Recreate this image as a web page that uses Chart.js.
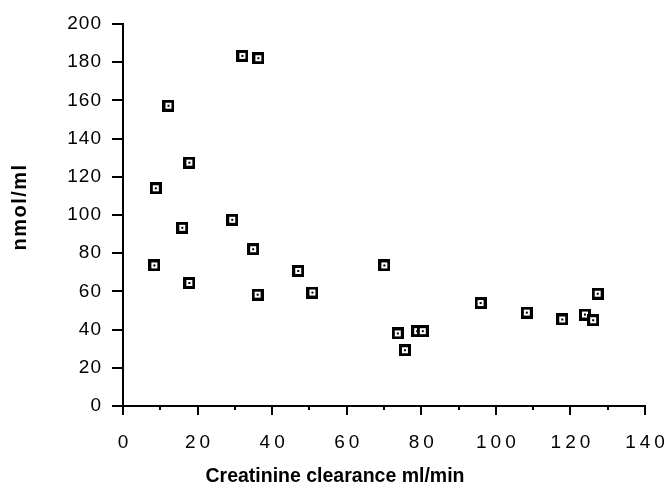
<!DOCTYPE html>
<html><head><meta charset="utf-8">
<script src="https://cdn.jsdelivr.net/npm/chart.js@4/dist/chart.umd.min.js"></script>
<style>html,body{margin:0;padding:0;background:#fff}canvas{display:block}</style>
</head><body>
<canvas id="c" width="667" height="488"></canvas>
<script>
// ---- data ----
const clearance = [8.4, 8.8, 12.2, 15.9, 17.8, 17.8, 29.3, 32.0, 34.9, 36.1, 36.3, 47.0, 50.8, 70.1, 73.7, 75.6, 78.9, 80.4, 95.9, 108.3, 117.8, 123.9, 126.1, 127.3];
const concentration = [73.6, 114.0, 157.2, 93.3, 127.4, 64.4, 97.5, 183.3, 82.1, 58.3, 182.1, 70.7, 59.4, 73.6, 38.0, 29.2, 39.2, 39.2, 53.9, 48.9, 45.3, 47.9, 44.9, 58.8];
const xTickValues = [0, 20, 40, 60, 80, 100, 120, 140];
const xMinorTickValues = [0, 10, 20, 30, 40, 50, 60, 70, 80, 90, 100, 110, 120, 130, 140];
const yTickValues = [0, 20, 40, 60, 80, 100, 120, 140, 160, 180, 200];
const xTitle = 'Creatinine clearance ml/min';
const yTitle = 'nmol/ml';

const FONT = '"Liberation Sans", Arial, Helvetica, sans-serif';

function markerCanvas() {
  const c = document.createElement('canvas');
  c.width = 12; c.height = 12;
  const g = c.getContext('2d');
  g.fillStyle = '#000'; g.fillRect(0, 0, 12, 12);
  g.fillStyle = '#fff'; g.fillRect(3, 3, 6, 6);
  g.fillStyle = '#000'; g.fillRect(5, 5, 2, 2);
  return c;
}

function wrap(scale, method, spacing, dx, dy) {
  const key = '_orig_' + method;
  if (scale[key]) return;
  const orig = scale[method];
  scale[key] = orig;
  scale[method] = function (...a) {
    const c = this.ctx;
    c.save();
    c.letterSpacing = spacing;
    c.translate(dx, dy);
    orig.apply(this, a);
    c.restore();
  };
}
const textSpacing = {
  id: 'textSpacing',
  beforeDraw(chart) {
    wrap(chart.scales.x, 'drawLabels', '4px', 2, 12);
    wrap(chart.scales.y, 'drawLabels', '1px', 0, 0);
    wrap(chart.scales.y, 'drawTitle', '1.5px', 0, -8);
  }
};

const points = clearance.map((x, i) => ({ x: x, y: concentration[i] }));

new Chart(document.getElementById('c'), {
  type: 'scatter',
  data: {
    datasets: [{
      data: points,
      xAxisID: 'x',
      yAxisID: 'y',
      pointStyle: markerCanvas(),
      pointRadius: 6,
      pointHoverRadius: 6,
      showLine: false
    }]
  },
  options: {
    responsive: false,
    animation: false,
    devicePixelRatio: 1,
    layout: { padding: { left: 25, right: 22, top: 24, bottom: 0 } },
    plugins: {
      legend: { display: false },
      tooltip: { enabled: false },
      title: {
        display: true, position: 'bottom', text: xTitle, color: '#000',
        font: { family: FONT, size: 19.5, weight: 'bold' },
        padding: { top: 0, bottom: 0 }
      }
    },
    scales: {
      xMinor: {
        type: 'linear', axis: 'x', position: 'bottom', weight: 0,
        min: 0, max: 140,
        afterBuildTicks(s) { s.ticks = xMinorTickValues.map(v => ({ value: v })); },
        ticks: { display: false },
        grid: { drawOnChartArea: false, color: '#000', lineWidth: 2, tickLength: 4 },
        border: { display: false },
        afterFit(s) { s.height = 0; }
      },
      x: {
        type: 'linear', axis: 'x', position: 'bottom', weight: 1,
        min: 0, max: 140,
        afterBuildTicks(s) { s.ticks = xTickValues.map(v => ({ value: v })); },
        ticks: { color: '#000', font: { family: FONT, size: 19 }, padding: 4, maxRotation: 0, autoSkip: false },
        grid: { drawOnChartArea: false, color: '#000', lineWidth: 2, tickLength: 9 },
        border: { display: true, color: '#000', width: 2 },
        afterFit(s) { s.height = 58.6; }
      },
      y: {
        type: 'linear', position: 'left',
        min: 0, max: 200,
        afterBuildTicks(s) { s.ticks = yTickValues.map(v => ({ value: v })); },
        ticks: { color: '#000', font: { family: FONT, size: 19 }, padding: 10, autoSkip: false },
        grid: { drawOnChartArea: false, color: '#000', lineWidth: 2, tickLength: 11 },
        border: { display: true, color: '#000', width: 2 },
        title: {
          display: true, text: yTitle, color: '#000',
          font: { family: FONT, size: 20, weight: 'bold' },
          padding: { top: -17, bottom: 0 }
        },
        afterFit(s) { s.width = 98; }
      }
    }
  },
  plugins: [textSpacing]
});
</script>
</body></html>
